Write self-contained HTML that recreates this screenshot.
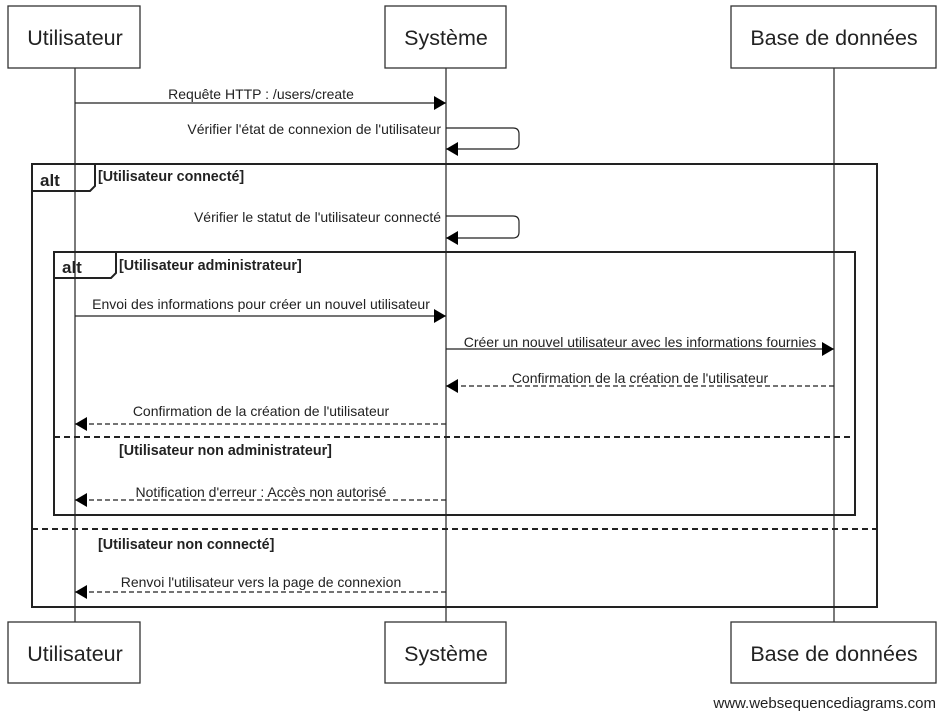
<!DOCTYPE html>
<html><head><meta charset="utf-8"><style>
body{margin:0;background:#fff}
svg{display:block}
text{font-family:"Liberation Sans",sans-serif;fill:#222}
.m{font-size:14px;text-anchor:middle}
.p{font-size:21.5px;text-anchor:middle}
.g{font-size:14.3px;font-weight:bold}
</style></head><body>
<svg width="946" height="714" viewBox="0 0 946 714" xmlns="http://www.w3.org/2000/svg">
<defs>
<marker id="a" markerWidth="12" markerHeight="14" refX="12" refY="7" orient="auto" markerUnits="userSpaceOnUse"><path d="M0,0 L12,7 L0,14 Z" fill="#000"/></marker>
</defs>
<g stroke="#333" stroke-width="1.3">
<line x1="75" y1="68" x2="75" y2="622"/>
<line x1="446" y1="68" x2="446" y2="622"/>
<line x1="834" y1="68" x2="834" y2="622"/>
</g>
<g fill="#fff" stroke="#333" stroke-width="1.3">
<rect x="8" y="6" width="132" height="62"/>
<rect x="385" y="6" width="121" height="62"/>
<rect x="731" y="6" width="205" height="62"/>
<rect x="8" y="622" width="132" height="61"/>
<rect x="385" y="622" width="121" height="61"/>
<rect x="731" y="622" width="205" height="61"/>
</g>
<text class="p" x="75" y="45">Utilisateur</text>
<text class="p" x="446" y="45">Système</text>
<text class="p" x="834" y="45">Base de données</text>
<text class="p" x="75" y="661">Utilisateur</text>
<text class="p" x="446" y="661">Système</text>
<text class="p" x="834" y="661">Base de données</text>

<g fill="none" stroke="#222" stroke-width="2">
<rect x="32" y="164" width="845" height="443"/>
<path d="M32,191 H90 L95,186 V164"/>
<rect x="54" y="252" width="801" height="263"/>
<path d="M54,278 H111 L116,273 V252"/>
<line x1="54" y1="437" x2="855" y2="437" stroke-dasharray="6,4"/>
<line x1="32" y1="529" x2="877" y2="529" stroke-dasharray="6,4"/>
</g>
<text class="g" x="40" y="186" style="font-size:17px">alt</text>
<text class="g" x="62" y="273" style="font-size:17px">alt</text>
<text class="g" x="98" y="181">[Utilisateur connecté]</text>
<text class="g" x="119" y="270">[Utilisateur administrateur]</text>
<text class="g" x="119" y="455">[Utilisateur non administrateur]</text>
<text class="g" x="98" y="549">[Utilisateur non connecté]</text>

<g stroke="#222" stroke-width="1.2" fill="none">
<line x1="75" y1="103" x2="446" y2="103" marker-end="url(#a)"/>
<path d="M446,128 H513 Q519,128 519,134 V143 Q519,149 513,149 H446" marker-end="url(#a)"/>
<path d="M446,216 H513 Q519,216 519,222 V232 Q519,238 513,238 H446" marker-end="url(#a)"/>
<line x1="75" y1="316" x2="446" y2="316" marker-end="url(#a)"/>
<line x1="446" y1="349" x2="834" y2="349" marker-end="url(#a)"/>
<g stroke-dasharray="5,3">
<line x1="834" y1="386" x2="446" y2="386" marker-end="url(#a)"/>
<line x1="446" y1="424" x2="75" y2="424" marker-end="url(#a)"/>
<line x1="446" y1="500" x2="75" y2="500" marker-end="url(#a)"/>
<line x1="446" y1="592" x2="75" y2="592" marker-end="url(#a)"/>
</g>
</g>
<text class="m" x="261" y="99">Requête HTTP : /users/create</text>
<text x="441" y="134" style="font-size:14px;text-anchor:end">Vérifier l'état de connexion de l'utilisateur</text>
<text x="441" y="222" style="font-size:14px;text-anchor:end">Vérifier le statut de l'utilisateur connecté</text>
<text class="m" x="261" y="309">Envoi des informations pour créer un nouvel utilisateur</text>
<text class="m" x="640" y="347">Créer un nouvel utilisateur avec les informations fournies</text>
<text class="m" x="640" y="383">Confirmation de la création de l'utilisateur</text>
<text class="m" x="261" y="416">Confirmation de la création de l'utilisateur</text>
<text class="m" x="261" y="497">Notification d'erreur : Accès non autorisé</text>
<text class="m" x="261" y="587">Renvoi l'utilisateur vers la page de connexion</text>
<text x="936" y="708" style="font-size:15px;text-anchor:end">www.websequencediagrams.com</text>
</svg>
</body></html>
